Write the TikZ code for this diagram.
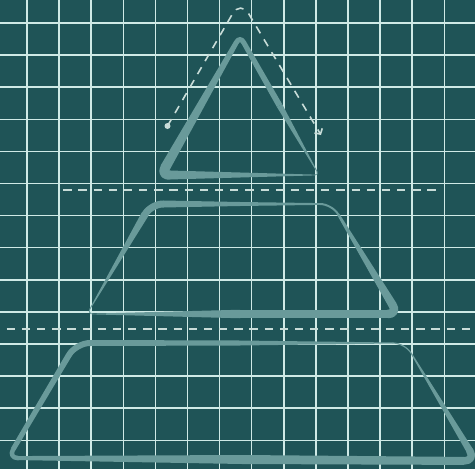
\documentclass[tikz,border=0pt]{standalone}
\usetikzlibrary{calc,arrows.meta}
\definecolor{bgc}{HTML}{1F5457}
\definecolor{gridc}{HTML}{CFEAE6}
\definecolor{shapec}{HTML}{699A9A}
\definecolor{dashc}{HTML}{C8DCD8}
\tikzset{
  shp/.style={draw=shapec, line cap=round, line join=round},
  shpfill/.style={fill=shapec},
  gridline/.style={draw=gridc, line width=1.5pt},
  sepline/.style={draw=dashc, line width=2.2pt, dash pattern=on 8.3pt off 6.87pt},
  guide/.style={draw=dashc, line width=1.6pt, dash pattern=on 8pt off 7pt},
}
\newcommand\taperseg[4]{%
  \pgfmathsetmacro\ha{#3/2}%
  \pgfmathsetmacro\hb{#4/2}%
  \fill[shpfill] ($(#1)!\ha pt!90:(#2)$) -- ($(#2)!\hb pt!-90:(#1)$) -- ($(#2)!\hb pt!90:(#1)$) -- ($(#1)!\ha pt!-90:(#2)$) -- cycle;}
\newcommand\cornerseg[5]{%
  \draw[shp, line width=#5pt, rounded corners=#4pt] ($(#2)!#4pt!(#1)$) -- (#2) -- ($(#2)!#4pt!(#3)$);}
\newcommand\sideseg[6]{%
  \coordinate (ea) at ($(#1)!#3pt!(#2)$);
  \coordinate (eb) at ($(#2)!#4pt!(#1)$);
  \taperseg{ea}{eb}{#5}{#6}}
\begin{document}
\begin{tikzpicture}[x=1pt,y=-1pt]
\useasboundingbox (0,0) rectangle (475,469);
\fill[bgc] (0,0) rectangle (475,469);
% grid
\foreach \k in {0,...,14}{
  \draw[gridline] ({27+32.1*\k},0) -- ({27+32.1*\k},469);
  \draw[gridline] (0,{23+32.1*\k}) -- (475,{23+32.1*\k});
}
% separators
\coordinate (s1a) at (63.3,190);
\coordinate (s1b) at (437,190);
\coordinate (s2a) at (6.7,328.7);
\coordinate (s2b) at (470.5,328.7);
\draw[sepline] (s1a) -- (s1b);
\draw[sepline] (s2a) -- (s2b);
% top triangle
\coordinate (AP) at (240,36);
\coordinate (TBL) at (161,175);
\coordinate (TBR) at (319,175);
\coordinate (TM) at ($(TBR)!0.5!(AP)$);
\cornerseg{TBL}{AP}{TBR}{7}{5}
\cornerseg{AP}{TBL}{TBR}{8}{9.5}
\cornerseg{TBL}{TBR}{AP}{4}{0.8}
\sideseg{AP}{TBL}{7}{8}{5}{10}
\sideseg{TBL}{TBR}{8}{4}{9}{0.8}
\sideseg{TBR}{TM}{4}{0}{0.8}{6}
\sideseg{TM}{AP}{0}{7}{6}{5}
% middle trapezoid
\coordinate (MTL) at (151,204);
\coordinate (MTR) at (332,204);
\coordinate (MBR) at (398,314);
\coordinate (MBL) at (87,314);
\coordinate (MTM) at (240,204);
\coordinate (MBM) at (240,314);
\cornerseg{MBL}{MTL}{MTR}{12}{7}
\cornerseg{MTL}{MTR}{MBR}{12}{2}
\cornerseg{MTR}{MBR}{MBL}{10}{8.5}
\cornerseg{MBR}{MBL}{MTL}{6}{0.8}
\sideseg{MTL}{MTM}{12}{0}{7}{4}
\sideseg{MTM}{MTR}{0}{12}{4}{1.8}
\sideseg{MTR}{MBR}{12}{10}{2.5}{8.5}
\sideseg{MBR}{MBM}{10}{0}{8.5}{8.5}
\sideseg{MBM}{MBL}{0}{6}{8.5}{0.8}
\sideseg{MBL}{MTL}{6}{12}{0.8}{7.5}
% bottom trapezoid
\coordinate (BTL) at (76,343);
\coordinate (BTR) at (405,343);
\coordinate (BBR) at (476,461);
\coordinate (BBL) at (8,458);
\coordinate (BTM) at (240,343);
\coordinate (BBM) at ($(BBL)!0.5!(BBR)$);
\cornerseg{BBL}{BTL}{BTR}{14}{6}
\cornerseg{BTL}{BTR}{BBR}{12}{1.2}
\cornerseg{BTR}{BBR}{BBL}{12}{7.5}
\cornerseg{BBR}{BBL}{BTL}{10}{4.5}
\sideseg{BTL}{BTM}{14}{0}{6}{5}
\sideseg{BTM}{BTR}{0}{12}{5}{1}
\sideseg{BTR}{BBR}{12}{12}{1.2}{7}
\sideseg{BBR}{BBM}{12}{0}{8}{9}
\sideseg{BBM}{BBL}{0}{10}{9}{4}
\sideseg{BBL}{BTL}{10}{14}{5}{6}
% guide arrow
\coordinate (gs) at (167.5,126);
\coordinate (gt) at (240.5,0);
\coordinate (ge) at (321,135);
\fill[dashc] (gs) circle (3);
\draw[guide, rounded corners=16pt, -{Straight Barb[length=4pt,width=9pt]}] (gs) -- (gt) -- (ge);
\end{tikzpicture}
\end{document}
